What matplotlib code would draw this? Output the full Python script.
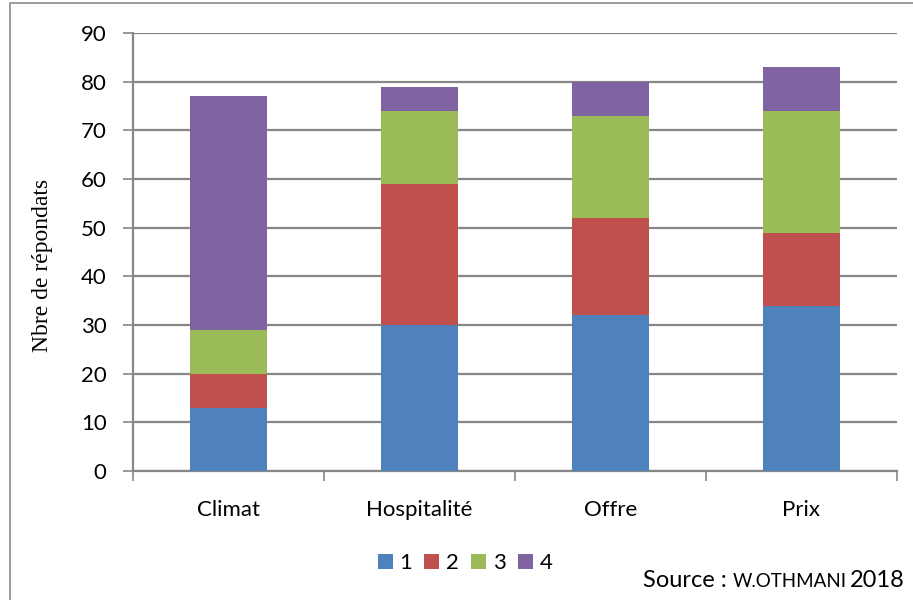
import numpy as np
import matplotlib
matplotlib.use("Agg")
import matplotlib.pyplot as plt
from matplotlib.patches import Rectangle

categories = ["Climat", "Hospitalité", "Offre", "Prix"]
series_names = ["1", "2", "3", "4"]
s1 = [13, 30, 32, 34]
s2 = [7, 29, 20, 15]
s3 = [9, 15, 21, 25]
s4 = [48, 5, 7, 9]
colors = ["#4f81bd", "#c0504d", "#9bbb59", "#8064a2"]

plt.rcParams['font.family'] = ['Lato', 'DejaVu Sans']
grid_col = "#878787"
fs = 16

fig = plt.figure(figsize=(9.13, 6.0), dpi=100)
ax = fig.add_axes([133 / 913, 1 - 471 / 600, (897 - 133) / 913, (471 - 33) / 600])

x = np.arange(len(categories))
bottom = np.zeros(len(categories))
for name, vals, c in zip(series_names, [s1, s2, s3, s4], colors):
    ax.bar(x, vals, width=0.4, bottom=bottom, color=c, label=name, zorder=3)
    bottom += np.array(vals)

ax.set_xlim(-0.5, len(categories) - 0.5)
ax.set_ylim(0, 90)
ax.set_yticks(np.arange(0, 91, 10))
ax.yaxis.grid(True, color=grid_col, linewidth=1.6, zorder=0)
ax.set_axisbelow(True)

ax.set_xticks(x)
ax.set_xticklabels(categories, fontsize=fs)
ax.set_xticks(np.arange(-0.5, len(categories)), minor=True)
ax.tick_params(axis='x', which='major', length=0, pad=21)
ax.tick_params(axis='x', which='minor', length=7, width=1.2, color=grid_col, direction='out')
ax.tick_params(axis='y', length=7, width=1.2, color=grid_col, labelsize=fs, pad=12)

for side in ['top', 'right']:
    ax.spines[side].set_visible(False)
for side in ['left', 'bottom']:
    ax.spines[side].set_color(grid_col)
    ax.spines[side].set_linewidth(1.6)

ax.set_ylabel("Nbre de répondats", family='Liberation Serif', fontsize=17)
ax.yaxis.set_label_coords((53 - 133) / 764, 0.47)

leg = fig.legend(loc='center', bbox_to_anchor=(465 / 913, 1 - 563 / 600), ncol=4,
                 frameon=False, fontsize=fs, handlelength=0.68, handleheight=0.68,
                 handletextpad=0.3, columnspacing=0.54)

# border around chart
fig.patches.append(Rectangle((10 / 913, -0.01), 1.0, 1 - 3 / 600 + 0.01,
                             transform=fig.transFigure, fill=False,
                             edgecolor="#8c8c8c", linewidth=1.2))

base = 1 - 587 / 600
fig.text(643 / 913, base, "Source :", fontsize=17, va='baseline')
fig.text(733 / 913, base, "W.OTHMANI", fontsize=13.5, va='baseline')
fig.text(850 / 913, base, "2018", fontsize=17, va='baseline')

fig.savefig("out.png", dpi=100)
